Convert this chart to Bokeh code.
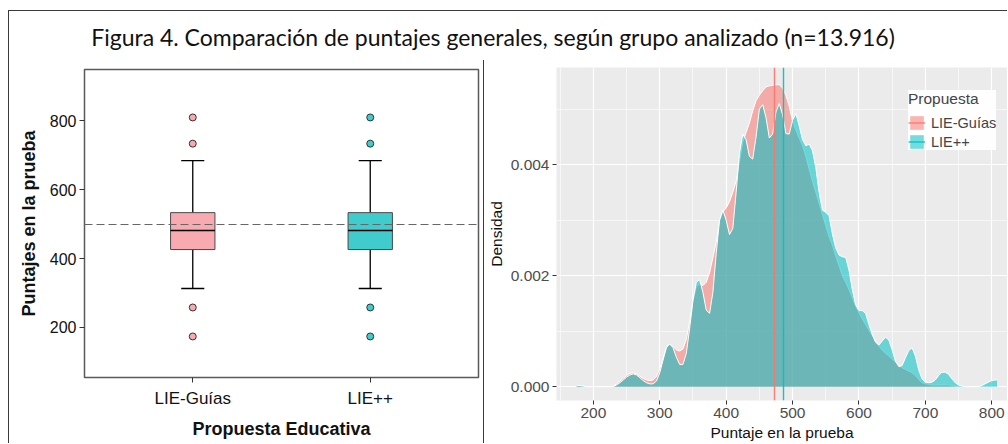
from bokeh.plotting import figure
from bokeh.models import (Range1d, FixedTicker, PrintfTickFormatter, Legend,
                          LegendItem, Label, Div)
from bokeh.layouts import column, row
from bokeh.embed import file_html
from bokeh.resources import INLINE

# ---------------- data ----------------
title_text = "Figura 4. Comparación de puntajes generales, según grupo analizado (n=13.916)"

groups = ["LIE-Guías", "LIE++"]
box_q1 = [426, 426]
box_median = [481, 481]
box_q3 = [533, 533]
whisker_low = [313, 313]
whisker_high = [684, 684]
outliers_guias = [174, 258, 733, 809]
outliers_lie = [174, 258, 733, 809]
reference_score = [500]
score_ticks_left = [200, 400, 600, 800]

density_x = list(range(175, 806, 5)) + [808]
density_lie = [
    0.00002, 0.00002, 0.00001, 0, 0, 0, 0, 0, 0, 0,
    0, 0, 0.00003, 0.00007, 0.00012, 0.00017, 0.00021, 0.00023, 0.00021, 0.00016,
    0.00011, 0.00007, 0.00005, 0.00005, 0.00010, 0.00025, 0.00048, 0.00070, 0.00077, 0.00070,
    0.00053, 0.00040, 0.00040, 0.00060, 0.00105, 0.00155, 0.00188, 0.00193, 0.00170, 0.00138,
    0.00132, 0.00170, 0.00240, 0.00300, 0.00318, 0.00300, 0.00274, 0.00285, 0.00350, 0.00420,
    0.00455, 0.00445, 0.00415, 0.00410, 0.00450, 0.00500, 0.00508, 0.00485, 0.00448, 0.00455,
    0.00495, 0.00510, 0.00490, 0.00456, 0.00455, 0.00480, 0.00492, 0.00470, 0.00445, 0.00434,
    0.00437, 0.00425, 0.00395, 0.00350, 0.00318, 0.00314, 0.00308, 0.00275, 0.00250, 0.00237,
    0.00234, 0.00233, 0.00210, 0.00175, 0.00148, 0.00137, 0.00137, 0.00132, 0.00112, 0.00094,
    0.00080, 0.00075, 0.00082, 0.00089, 0.00084, 0.00066, 0.00046, 0.00036, 0.00038, 0.00052,
    0.00065, 0.00070, 0.00055, 0.00030, 0.00014, 0.00008, 0.00007, 0.00008, 0.00012, 0.00020,
    0.00026, 0.00026, 0.00022, 0.00014, 0.00007, 0.00003, 0.00001, 0, 0, 0,
    0, 0, 0.00002, 0.00005, 0.00008, 0.00011, 0.00012, 0.00012,
]
density_guias = [
    0.00002, 0.00002, 0.00001, 0, 0, 0, 0, 0, 0, 0,
    0, 0.00001, 0.00005, 0.00010, 0.00015, 0.00020, 0.00024, 0.00025, 0.00023, 0.00019,
    0.00015, 0.00012, 0.00011, 0.00012, 0.00018, 0.00032, 0.00052, 0.00071, 0.00076, 0.00073,
    0.00066, 0.00064, 0.00068, 0.00085, 0.00118, 0.00155, 0.00180, 0.00185, 0.00182, 0.00188,
    0.00205, 0.00232, 0.00260, 0.00298, 0.00315, 0.00322, 0.00333, 0.00350, 0.00370, 0.00405,
    0.00440, 0.00458, 0.00475, 0.00497, 0.00515, 0.00525, 0.00533, 0.00540, 0.00542, 0.00543,
    0.00544, 0.00544, 0.00538, 0.00525, 0.00505, 0.00478, 0.00462, 0.00448, 0.00434, 0.00415,
    0.00392, 0.00370, 0.00350, 0.00330, 0.00310, 0.00290, 0.00270, 0.00255, 0.00235, 0.00218,
    0.00200, 0.00188, 0.00175, 0.00160, 0.00145, 0.00133, 0.00122, 0.00112, 0.00102, 0.00092,
    0.00082, 0.00073, 0.00066, 0.00060, 0.00055, 0.00050, 0.00044, 0.00038, 0.00034, 0.00031,
    0.00028, 0.00025, 0.00020, 0.00013, 0.00007, 0.00005, 0.00004, 0.00003, 0.00003, 0.00003,
    0.00003, 0.00003, 0.00003, 0.00002, 0.00001, 0, 0, 0, 0, 0,
    0, 0, 0, 0, 0, 0, 0, 0,
]
mean_guias = [473.5]
mean_lie = [486.0]
score_ticks = [200, 300, 400, 500, 600, 700, 800]
score_minor = [150, 250, 350, 450, 550, 650, 750]
density_ticks = [0.0, 0.002, 0.004]
density_minor = [0.001, 0.003, 0.005]

# ---------------- style ----------------
FRAME = "#3a3a3a"
PINK_BOX = "#F8AAB0"
TEAL_BOX = "#40CCCC"
PINK = "#F8766D"
TEAL = "#00BFC4"
SANS = "Liberation Sans"

# ---------------- title strip ----------------
tf = figure(width=998, height=49, x_range=Range1d(0, 1), y_range=Range1d(0, 1),
            toolbar_location=None, output_backend="svg", min_border=0,
            x_axis_location=None, y_axis_location=None)
tf.grid.visible = False
tf.outline_line_color = None
tf.add_layout(Label(x=483.5, y=24, x_units="screen", y_units="screen",
                    text=title_text, text_align="center", text_baseline="middle",
                    text_font="Lato", text_font_size="23px", text_color="#111111"))

# ---------------- left: boxplot ----------------
xpos = [i + 1 for i in range(len(groups))]
lf = figure(width=474, height=383, x_range=Range1d(0.39, 2.61), y_range=Range1d(55, 948),
            toolbar_location=None, output_backend="svg",
            min_border_left=75, min_border_right=5, min_border_top=9, min_border_bottom=66)
lf.grid.visible = False
lf.outline_line_color = "#5a5a5a"
lf.outline_line_width = 1.5

fills = [PINK_BOX, TEAL_BOX]
bw = 0.25
cw = 0.065
lf.segment(x0=xpos, y0=box_q3, x1=xpos, y1=whisker_high, line_color="black", line_width=1.3)
lf.segment(x0=xpos, y0=box_q1, x1=xpos, y1=whisker_low, line_color="black", line_width=1.3)
lf.segment(x0=[x - cw for x in xpos], y0=whisker_high, x1=[x + cw for x in xpos], y1=whisker_high,
           line_color="black", line_width=1.3)
lf.segment(x0=[x - cw for x in xpos], y0=whisker_low, x1=[x + cw for x in xpos], y1=whisker_low,
           line_color="black", line_width=1.3)
lf.vbar(x=xpos, width=bw, bottom=box_q1, top=box_q3, fill_color=fills,
        line_color="#4a4a4a", line_width=1)
lf.segment(x0=[x - bw / 2 for x in xpos], y0=box_median, x1=[x + bw / 2 for x in xpos], y1=box_median,
           line_color="black", line_width=1.6)
for x, outs, col in zip(xpos, [outliers_guias, outliers_lie], fills):
    lf.scatter(x=[x] * len(outs), y=outs, size=7, fill_color=col, line_color="#333333", line_width=1)
lf.hspan(y=reference_score, line_color="#666666", line_width=1.2, line_dash="8 4")

lf.xaxis.ticker = FixedTicker(ticks=xpos)
lf.xaxis.major_label_overrides = {x: g for x, g in zip(xpos, groups)}
lf.yaxis.ticker = FixedTicker(ticks=score_ticks_left)
lf.xaxis.axis_label = "Propuesta Educativa"
lf.yaxis.axis_label = "Puntajes en la prueba"
for ax in (lf.xaxis[0], lf.yaxis[0]):
    ax.axis_line_color = None
    ax.major_tick_line_color = "#333333"
    ax.major_tick_out = 5
    ax.major_tick_in = 0
    ax.minor_tick_line_color = None
    ax.major_label_text_font = SANS
    ax.major_label_text_color = "#111111"
    ax.axis_label_text_font = SANS
    ax.axis_label_text_font_style = "bold"
    ax.axis_label_text_font_size = "18px"
    ax.axis_label_text_color = "#111111"
lf.xaxis.major_label_text_font_size = "17px"
lf.yaxis.major_label_text_font_size = "16px"
lf.xaxis.major_label_standoff = 6
lf.xaxis.axis_label_standoff = 8
lf.yaxis.major_label_standoff = 3
lf.yaxis.axis_label_standoff = 8

# ---------------- right: densities ----------------
rf = figure(width=523, height=383, x_range=Range1d(144.5, 823.7), y_range=Range1d(-0.00025, 0.00575),
            toolbar_location=None, output_backend="svg",
            min_border_left=70, min_border_right=0, min_border_top=7, min_border_bottom=43)
rf.background_fill_color = "#EBEBEB"
rf.outline_line_color = None
rf.xaxis.ticker = FixedTicker(ticks=score_ticks, minor_ticks=score_minor)
rf.yaxis.ticker = FixedTicker(ticks=density_ticks, minor_ticks=density_minor)
rf.yaxis.formatter = PrintfTickFormatter(format="%.3f")
for g in (rf.xgrid[0], rf.ygrid[0]):
    g.grid_line_color = "white"
    g.grid_line_width = 1.2
    g.minor_grid_line_color = "white"
    g.minor_grid_line_width = 0.6

va_p = rf.varea(x=density_x, y1=0, y2=density_guias, fill_color=PINK, fill_alpha=0.55)
rf.line(density_x, density_guias, line_color="white", line_width=1)
va_t = rf.varea(x=density_x, y1=0, y2=density_lie, fill_color=TEAL, fill_alpha=0.55)
rf.line(density_x, density_lie, line_color="white", line_width=1)
vs_p = rf.vspan(x=mean_guias, line_color=PINK, line_width=1.4, line_alpha=0.9)
vs_t = rf.vspan(x=mean_lie, line_color=TEAL, line_width=1.4, line_alpha=0.9)

rf.xaxis.axis_label = "Puntaje en la prueba"
rf.yaxis.axis_label = "Densidad"
for ax in (rf.xaxis[0], rf.yaxis[0]):
    ax.axis_line_color = None
    ax.major_tick_line_color = "#333333"
    ax.major_tick_out = 4
    ax.major_tick_in = 0
    ax.minor_tick_line_color = None
    ax.major_label_text_font = SANS
    ax.major_label_text_font_size = "15.5px"
    ax.major_label_text_color = "#4d4d4d"
    ax.major_label_standoff = 3
    ax.axis_label_text_font = SANS
    ax.axis_label_text_font_style = "normal"
    ax.axis_label_text_font_size = "15.5px"
    ax.axis_label_text_color = "#111111"
    ax.axis_label_standoff = 3

legend = Legend(items=[LegendItem(label=groups[0], renderers=[va_p, vs_p]),
                       LegendItem(label=groups[1], renderers=[va_t, vs_t])],
                title="Propuesta", location=(352, 250), margin=0,
                background_fill_color="white", border_line_color=None,
                title_text_font=SANS, title_text_font_size="15.5px", title_text_font_style="normal",
                title_standoff=6,
                label_text_font=SANS, label_text_font_size="14.5px",
                glyph_width=17, glyph_height=17, label_standoff=6, spacing=2, padding=8)
rf.add_layout(legend)

# ---------------- frame & layout ----------------
top_gap = Div(width=1007, height=10, margin=0)
left_gap = Div(width=8, height=433, margin=0)
hline = Div(width=999, height=1, margin=0, styles={"background-color": FRAME})
vline = Div(width=1, height=432, margin=0, styles={"background-color": FRAME})
divider = Div(width=1, height=383, margin=0, styles={"background-color": FRAME})

panels = row(column(lf), divider, column(rf))
layout = column(top_gap, row(left_gap, column(hline, row(vline, column(tf, panels)))))

open("out.html", "w").write(file_html(layout, INLINE))
